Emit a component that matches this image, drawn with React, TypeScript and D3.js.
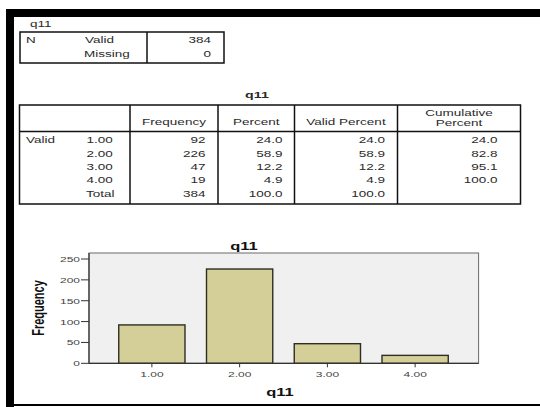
import React from "react";
import * as d3 from "d3";

const varName = "q11";
const categories = ["1.00", "2.00", "3.00", "4.00"];
const frequency = [92, 226, 47, 19];
const percent = ["24.0", "58.9", "12.2", "4.9"];
const validPercent = ["24.0", "58.9", "12.2", "4.9"];
const cumulativePercent = ["24.0", "82.8", "95.1", "100.0"];
const totalRow = ["384", "100.0", "100.0", ""];
const nValid = "384";
const nMissing = "0";
const yTicks = [0, 50, 100, 150, 200, 250];

const SX = 1.5;
const FONT = "'Liberation Sans', Arial, sans-serif";
const TXT = "#2a2a2a";

function T(props: {
  x: number;
  y: number;
  anchor?: "start" | "middle" | "end";
  size?: number;
  bold?: boolean;
  fill?: string;
  children: React.ReactNode;
}) {
  const { x, y, anchor = "start", size = 9, bold = false, fill = TXT, children } = props;
  return (
    <text
      transform={`translate(${x},${y}) scale(${SX},1)`}
      textAnchor={anchor}
      fontSize={size}
      fontWeight={bold ? "bold" : "normal"}
      fontFamily={FONT}
      fill={fill}
    >
      {children}
    </text>
  );
}

export default function App() {
  // main table layout
  const colX = [19.5, 130, 218, 294.5, 397.5, 520.5];
  const tTop = 105;
  const hLine = 131.5;
  const rowY = [140, 153.3, 166.6, 180, 193.5];
  const tBottom = 204;
  const rightPad = [12.4, 12, 12.5, 23];

  // chart layout
  const plot = { left: 89, right: 478.6, top: 253, bottom: 363.3 };
  const y = d3.scaleLinear().domain([0, 264.4]).range([plot.bottom, plot.top]);
  const x = d3
    .scaleBand<string>()
    .domain(categories)
    .range([108, 459])
    .paddingInner(0.245)
    .paddingOuter(0.1225);

  const rows = categories.map((c, i) => [
    String(frequency[i]),
    percent[i],
    validPercent[i],
    cumulativePercent[i],
  ]);

  return (
    <svg
      width={540}
      height={407}
      style={{ position: "absolute", left: 0, top: 0, background: "#fff" }}
    >
      {/* outer black frame */}
      <rect x={6} y={9} width={534} height={8} fill="#000" />
      <rect x={6} y={9} width={8} height={398} fill="#000" />
      <rect x={14} y={404} width={526} height={2} fill="#000" />

      {/* statistics table */}
      <T x={30} y={27}>{varName}</T>
      <rect x={20} y={32} width={204} height={31} fill="none" stroke="#111" strokeWidth={1.5} />
      <line x1={147} x2={147} y1={32} y2={63} stroke="#111" strokeWidth={1.5} />
      <T x={26} y={43}>N</T>
      <T x={85} y={43}>Valid</T>
      <T x={84} y={57}>Missing</T>
      <T x={211} y={43} anchor="end">{nValid}</T>
      <T x={211} y={57} anchor="end">{nMissing}</T>

      {/* frequency table */}
      <T x={257} y={98} anchor="middle" size={9.5} bold>
        {varName}
      </T>
      <rect
        x={colX[0]}
        y={tTop}
        width={colX[5] - colX[0]}
        height={tBottom - tTop}
        fill="none"
        stroke="#111"
        strokeWidth={1.5}
      />
      <line x1={colX[0]} x2={colX[5]} y1={hLine} y2={hLine} stroke="#111" strokeWidth={1.5} />
      {colX.slice(1, 5).map((cx) => (
        <line key={cx} x1={cx} x2={cx} y1={tTop} y2={tBottom} stroke="#111" strokeWidth={1.5} />
      ))}
      <T x={(colX[1] + colX[2]) / 2} y={125} anchor="middle">Frequency</T>
      <T x={(colX[2] + colX[3]) / 2} y={125} anchor="middle">Percent</T>
      <T x={(colX[3] + colX[4]) / 2} y={125} anchor="middle">Valid Percent</T>
      <T x={(colX[4] + colX[5]) / 2} y={115.5} anchor="middle">Cumulative</T>
      <T x={(colX[4] + colX[5]) / 2} y={125.5} anchor="middle">Percent</T>

      <T x={26} y={rowY[0] + 3.2}>Valid</T>
      {categories.map((c, i) => (
        <T key={c} x={86.5} y={rowY[i] + 3.2}>
          {c}
        </T>
      ))}
      <T x={86} y={rowY[4] + 3.2}>Total</T>
      {rows.map((r, i) =>
        r.map((v, j) => (
          <T key={`${i}-${j}`} x={colX[j + 2] - rightPad[j]} y={rowY[i] + 3.2} anchor="end">
            {v}
          </T>
        ))
      )}
      {totalRow.map((v, j) =>
        v ? (
          <T key={`t-${j}`} x={colX[j + 2] - rightPad[j]} y={rowY[4] + 3.2} anchor="end">
            {v}
          </T>
        ) : null
      )}

      {/* bar chart */}
      <T x={244} y={249.5} anchor="middle" size={11} bold fill="#111">
        {varName}
      </T>
      <rect
        x={plot.left}
        y={plot.top}
        width={plot.right - plot.left}
        height={plot.bottom - plot.top}
        fill="#f0f0f0"
        stroke="#6a6a6a"
        strokeWidth={1}
      />
      {categories.map((c, i) => (
        <rect
          key={c}
          x={x(c)!}
          y={y(frequency[i])}
          width={x.bandwidth()}
          height={y(0) - y(frequency[i])}
          fill="#d4cf98"
          stroke="#2e2e22"
          strokeWidth={1.4}
        />
      ))}
      <line x1={plot.left} x2={plot.left} y1={plot.top} y2={plot.bottom} stroke="#333" strokeWidth={1.2} />
      <line x1={plot.left} x2={plot.right} y1={plot.bottom} y2={plot.bottom} stroke="#333" strokeWidth={1.2} />
      {yTicks.map((t) => (
        <g key={t}>
          <line x1={plot.left - 8} x2={plot.left} y1={y(t)} y2={y(t)} stroke="#333" strokeWidth={1} />
          <T x={plot.left - 9} y={y(t) + 3} anchor="end" size={8} fill="#444">
            {t}
          </T>
        </g>
      ))}
      {categories.map((c) => {
        const cx = x(c)! + x.bandwidth() / 2;
        return (
          <g key={c}>
            <line x1={cx} x2={cx} y1={plot.bottom} y2={plot.bottom + 4} stroke="#333" strokeWidth={1} />
            <T x={cx} y={377} anchor="middle" size={8} fill="#444">
              {c}
            </T>
          </g>
        );
      })}
      <T x={280} y={396} anchor="middle" size={11} bold fill="#111">
        {varName}
      </T>
      <text
        transform={`translate(44,308) rotate(-90) scale(1,${SX})`}
        textAnchor="middle"
        fontSize={11}
        fontWeight="bold"
        fontFamily={FONT}
        fill="#111"
      >
        Frequency
      </text>
    </svg>
  );
}
